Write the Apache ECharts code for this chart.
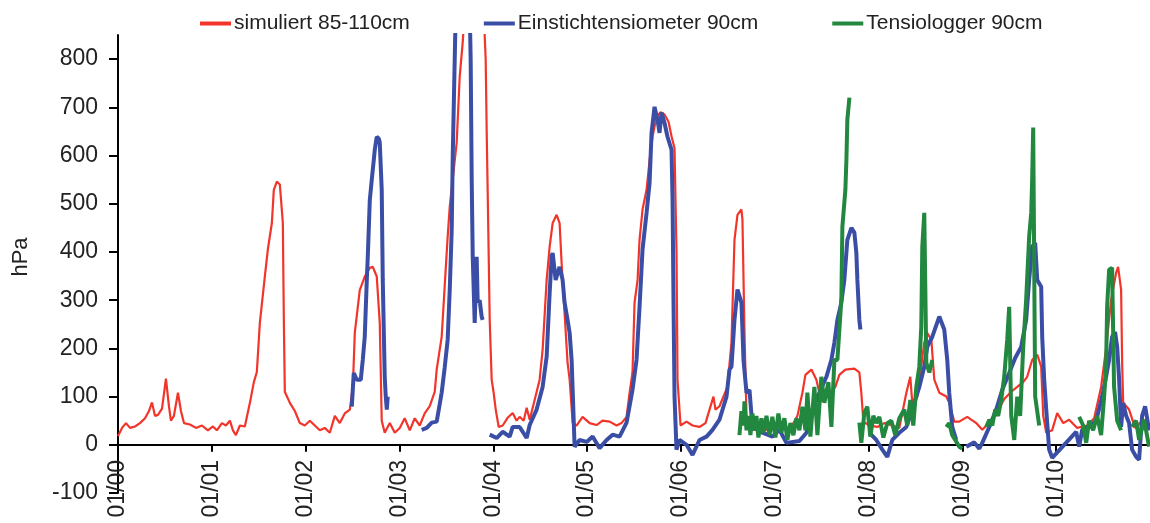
<!DOCTYPE html>
<html>
<head>
<meta charset="utf-8">
<script src="https://cdn.jsdelivr.net/npm/echarts@6/dist/echarts.min.js"></script>
<style>
html,body{margin:0;padding:0;background:#fff;}
#chart{width:1150px;height:523px;}
</style>
</head>
<body>
<div id="chart"></div>
<script>
// x values are decimal years (2000.0 = 1 Jan 2000), y values in hPa; null = gap
const seriesNames = ['simuliert 85-110cm', 'Einstichtensiometer 90cm', 'Tensiologger 90cm'];
const xTicks = [2000,2001,2002,2003,2004,2005,2006,2007,2008,2009,2010];
const yTicks = [-100,0,100,200,300,400,500,600,700,800];

const simuliert = [
[2000.000,18],[2000.043,35],[2000.085,45],[2000.128,35],[2000.181,38],[2000.234,45],[2000.288,55],[2000.330,70],[2000.362,88],[2000.394,60],[2000.426,62],[2000.469,75],[2000.511,137],[2000.543,80],[2000.564,50],[2000.596,60],[2000.639,108],[2000.671,70],[2000.703,45],[2000.767,42],[2000.831,35],[2000.895,40],[2000.958,30],[2001.012,38],[2001.054,30],[2001.108,45],[2001.150,40],[2001.193,50],[2001.225,30],[2001.257,20],[2001.299,40],[2001.352,38],[2001.406,87],[2001.448,130],[2001.480,151],[2001.512,253],[2001.565,349],[2001.597,405],[2001.640,460],[2001.661,529],[2001.693,546],[2001.725,540],[2001.757,460],[2001.768,253],[2001.778,110],[2001.832,87],[2001.885,70],[2001.938,45],[2001.991,40],[2002.045,50],[2002.098,40],[2002.151,30],[2002.204,35],[2002.258,25],[2002.311,60],[2002.364,45],[2002.417,65],[2002.471,73],[2002.503,120],[2002.524,232],[2002.577,321],[2002.630,349],[2002.684,367],[2002.716,369],[2002.758,349],[2002.790,253],[2002.811,50],[2002.843,25],[2002.897,45],[2002.950,25],[2003.003,35],[2003.056,55],[2003.110,30],[2003.163,55],[2003.216,40],[2003.269,65],[2003.323,80],[2003.376,110],[2003.397,156],[2003.450,224],[2003.482,328],[2003.514,432],[2003.536,494],[2003.610,627],[2003.642,763],[2003.674,834],[2003.695,900],[2003.898,900],[2003.919,800],[2003.930,647],[2003.940,530],[2003.962,259],[2003.983,135],[2004.004,108],[2004.026,73],[2004.058,37],[2004.100,40],[2004.153,56],[2004.207,66],[2004.249,50],[2004.281,58],[2004.324,50],[2004.356,77],[2004.388,52],[2004.441,93],[2004.494,135],[2004.526,197],[2004.569,342],[2004.601,411],[2004.633,460],[2004.675,477],[2004.707,460],[2004.728,378],[2004.760,274],[2004.792,170],[2004.814,135],[2004.846,46],[2004.888,40],[2004.952,58],[2005.027,45],[2005.101,41],[2005.165,50],[2005.240,48],[2005.314,40],[2005.367,45],[2005.421,58],[2005.453,108],[2005.484,150],[2005.506,295],[2005.538,342],[2005.559,425],[2005.591,488],[2005.634,529],[2005.666,590],[2005.698,640],[2005.740,680],[2005.783,690],[2005.825,685],[2005.868,670],[2005.900,640],[2005.932,615],[2005.953,400],[2005.964,135],[2005.996,40],[2006.060,48],[2006.124,40],[2006.198,37],[2006.262,45],[2006.305,73],[2006.347,100],[2006.368,73],[2006.411,80],[2006.496,120],[2006.539,212],[2006.571,425],[2006.603,477],[2006.645,488],[2006.656,467],[2006.677,239],[2006.699,60],[2006.752,30],[2006.837,35],[2006.944,30],[2007.050,40],[2007.157,30],[2007.242,60],[2007.295,108],[2007.327,145],[2007.391,156],[2007.444,135],[2007.497,90],[2007.561,100],[2007.646,120],[2007.689,145],[2007.753,156],[2007.849,158],[2007.902,150],[2007.923,108],[2007.945,48],[2008.008,40],[2008.094,37],[2008.168,45],[2008.253,40],[2008.328,35],[2008.403,108],[2008.445,141],[2008.466,87],[2008.520,100],[2008.594,212],[2008.626,232],[2008.669,218],[2008.701,135],[2008.754,108],[2008.829,100],[2008.860,87],[2008.914,48],[2008.967,48],[2009.052,58],[2009.148,45],[2009.212,31],[2009.287,46],[2009.340,60],[2009.393,75],[2009.446,95],[2009.521,110],[2009.585,120],[2009.648,130],[2009.691,141],[2009.744,176],[2009.798,187],[2009.840,162],[2009.862,60],[2009.894,25],[2009.957,30],[2010.011,66],[2010.075,45],[2010.138,52],[2010.224,35],[2010.330,40],[2010.405,55],[2010.479,120],[2010.532,200],[2010.586,301],[2010.639,357],[2010.660,369],[2010.692,322],[2010.703,170],[2010.714,87],[2010.777,73],[2010.841,35],[2010.916,50],[2010.990,52]
];

const einstich = [
[2002.492,79],[2002.513,149],[2002.545,135],[2002.588,135],[2002.609,176],[2002.630,224],[2002.652,342],[2002.662,388],[2002.684,508],[2002.705,550],[2002.726,590],[2002.737,612],[2002.758,639],[2002.780,635],[2002.790,627],[2002.811,529],[2002.822,342],[2002.843,141],[2002.854,100],[2002.865,73],[2002.875,100],[2002.900,null],
[2003.237,31],[2003.291,35],[2003.344,46],[2003.397,48],[2003.419,73],[2003.450,108],[2003.482,160],[2003.514,218],[2003.536,322],[2003.557,446],[2003.568,600],[2003.589,799],[2003.600,900],[2003.749,900],[2003.759,800],[2003.770,550],[2003.781,390],[2003.802,253],[2003.823,390],[2003.834,295],[2003.855,300],[2003.876,266],[2003.887,259],[2003.900,null],
[2003.962,21],[2004.036,14],[2004.100,27],[2004.175,17],[2004.207,37],[2004.281,37],[2004.356,14],[2004.388,41],[2004.462,73],[2004.526,120],[2004.569,183],[2004.601,315],[2004.622,390],[2004.633,398],[2004.665,342],[2004.707,369],[2004.739,342],[2004.760,295],[2004.792,259],[2004.814,232],[2004.835,176],[2004.867,-4],[2004.920,10],[2004.995,6],[2005.059,17],[2005.133,-7],[2005.208,10],[2005.272,21],[2005.346,17],[2005.421,46],[2005.484,114],[2005.527,176],[2005.559,286],[2005.591,405],[2005.634,481],[2005.666,543],[2005.687,647],[2005.719,701],[2005.751,674],[2005.772,647],[2005.793,689],[2005.825,668],[2005.857,639],[2005.900,612],[2005.911,508],[2005.921,300],[2005.932,100],[2005.953,-10],[2005.985,10],[2006.060,0],[2006.124,-21],[2006.198,10],[2006.273,17],[2006.337,31],[2006.411,52],[2006.486,100],[2006.518,156],[2006.539,162],[2006.571,259],[2006.603,322],[2006.645,295],[2006.656,239],[2006.667,176],[2006.699,108],[2006.731,114],[2006.762,37],[2006.869,25],[2006.975,17],[2007.050,31],[2007.125,4],[2007.263,8],[2007.338,25],[2007.402,73],[2007.476,108],[2007.551,141],[2007.604,176],[2007.636,212],[2007.668,259],[2007.710,295],[2007.742,342],[2007.774,425],[2007.817,450],[2007.849,440],[2007.870,398],[2007.881,342],[2007.902,259],[2007.913,239],[2007.950,null],
[2008.008,25],[2008.083,10],[2008.147,-10],[2008.200,-25],[2008.253,10],[2008.328,25],[2008.403,37],[2008.466,73],[2008.541,120],[2008.594,162],[2008.626,203],[2008.679,224],[2008.754,266],[2008.807,239],[2008.839,176],[2008.860,108],[2008.892,37],[2008.935,10],[2008.990,null],
[2009.042,-4],[2009.127,5],[2009.180,-8],[2009.212,4],[2009.287,37],[2009.361,73],[2009.425,114],[2009.499,149],[2009.563,180],[2009.627,203],[2009.680,259],[2009.712,342],[2009.744,411],[2009.776,419],[2009.798,342],[2009.840,328],[2009.851,224],[2009.872,135],[2009.894,73],[2009.925,-10],[2009.957,-27],[2010.213,27],[2010.245,-4],[2010.277,31],[2010.351,37],[2010.426,50],[2010.490,100],[2010.532,141],[2010.564,176],[2010.596,224],[2010.628,234],[2010.650,203],[2010.671,135],[2010.692,37],[2010.714,87],[2010.746,60],[2010.777,45],[2010.809,-10],[2010.852,-25],[2010.884,-31],[2010.916,60],[2010.948,80],[2010.990,30]
];

const tensio = [
[2006.624,20],[2006.645,70],[2006.667,40],[2006.677,90],[2006.699,30],[2006.720,60],[2006.741,20],[2006.762,65],[2006.784,30],[2006.805,60],[2006.826,15],[2006.858,55],[2006.880,25],[2006.912,60],[2006.944,20],[2006.975,58],[2007.007,15],[2007.039,65],[2007.071,25],[2007.103,55],[2007.135,10],[2007.167,45],[2007.199,20],[2007.231,55],[2007.263,30],[2007.295,79],[2007.327,30],[2007.348,108],[2007.380,17],[2007.423,120],[2007.455,20],[2007.497,141],[2007.529,87],[2007.572,130],[2007.604,37],[2007.636,176],[2007.668,176],[2007.710,301],[2007.721,452],[2007.753,529],[2007.764,591],[2007.774,674],[2007.796,720],[2007.850,null],
[2007.902,46],[2007.923,4],[2007.955,66],[2007.987,79],[2008.019,17],[2008.051,60],[2008.083,45],[2008.115,58],[2008.158,15],[2008.200,45],[2008.243,50],[2008.285,20],[2008.328,55],[2008.381,73],[2008.413,40],[2008.445,93],[2008.477,40],[2008.509,120],[2008.541,162],[2008.562,245],[2008.573,411],[2008.594,481],[2008.616,170],[2008.648,150],[2008.679,176],[2008.750,null],
[2008.829,37],[2008.860,45],[2008.892,20],[2008.924,10],[2008.967,-4],[2008.999,-8],[2009.100,null],
[2009.255,37],[2009.287,52],[2009.319,40],[2009.350,73],[2009.382,60],[2009.414,93],[2009.446,141],[2009.478,218],[2009.499,286],[2009.521,60],[2009.553,10],[2009.585,100],[2009.616,60],[2009.648,200],[2009.680,301],[2009.712,432],[2009.734,481],[2009.744,550],[2009.755,658],[2009.776,100],[2009.819,40],[2009.900,null],
[2010.245,58],[2010.288,40],[2010.320,4],[2010.351,50],[2010.394,30],[2010.437,60],[2010.479,20],[2010.511,100],[2010.532,162],[2010.543,286],[2010.564,363],[2010.596,367],[2010.617,120],[2010.650,50],[2010.692,30],[2010.750,null],
[2010.809,37],[2010.852,50],[2010.884,10],[2010.937,52],[2010.990,-4]
];

const colors = ['#F2352A', '#3A4EA5', '#22873F'];
const widths = [2.2, 4, 4];

function toData(arr){ return arr.map(p => [p[0], p[1] === null ? '-' : p[1]]); }

const chart = echarts.init(document.getElementById('chart'), null, {renderer:'canvas'});
const font = 'Liberation Sans, Arial, Helvetica, sans-serif';

chart.setOption({
  animation: false,
  backgroundColor: '#fff',
  grid: {left: 118, right: 0, top: 35, bottom: 30, containLabel: false, outerBoundsMode: 'none'},
  legend: {
    left: 195, top: 8, itemGap: 74, itemWidth: 31, itemHeight: 4,
    textStyle: {fontFamily: font, fontSize: 21, color: '#222', padding: [0,0,0,-2]},
    data: seriesNames.map((n, i) => ({name: n, icon: 'rect', itemStyle: {color: colors[i]}}))
  },
  xAxis: {
    type: 'value', min: 2000, max: 2011, interval: 1,
    axisLine: {onZero: true, lineStyle: {color: '#000', width: 2}},
    axisTick: {show: true, length: 7, inside: false, customValues: xTicks, lineStyle: {color: '#000', width: 2}},
    axisLabel: {
      customValues: xTicks, rotate: 90, margin: -33,
      fontFamily: font, fontSize: 23, color: '#222',
      formatter: v => '01/' + String(Math.round(v) % 100).padStart(2, '0')
    },
    splitLine: {show: false}
  },
  yAxis: {
    type: 'value', min: -100, max: 850, interval: 100,
    name: 'hPa', nameLocation: 'middle', nameGap: 86, nameRotate: 90,
    nameTextStyle: {fontFamily: font, fontSize: 22, color: '#222', padding: [0, 0, 0, 14]},
    axisLine: {show: true, lineStyle: {color: '#000', width: 2}},
    axisTick: {show: true, length: 9, customValues: yTicks, lineStyle: {color: '#000', width: 2}},
    axisLabel: {customValues: yTicks, margin: 20, fontFamily: font, fontSize: 23, color: '#222'},
    splitLine: {show: false}
  },
  series: [simuliert, einstich, tensio].map((arr, i) => ({
    name: seriesNames[i], type: 'line', data: toData(arr),
    showSymbol: false, symbol: 'none', connectNulls: false, clip: true,
    lineStyle: {color: colors[i], width: widths[i]},
    itemStyle: {color: colors[i]}
  }))
});
</script>
</body>
</html>
